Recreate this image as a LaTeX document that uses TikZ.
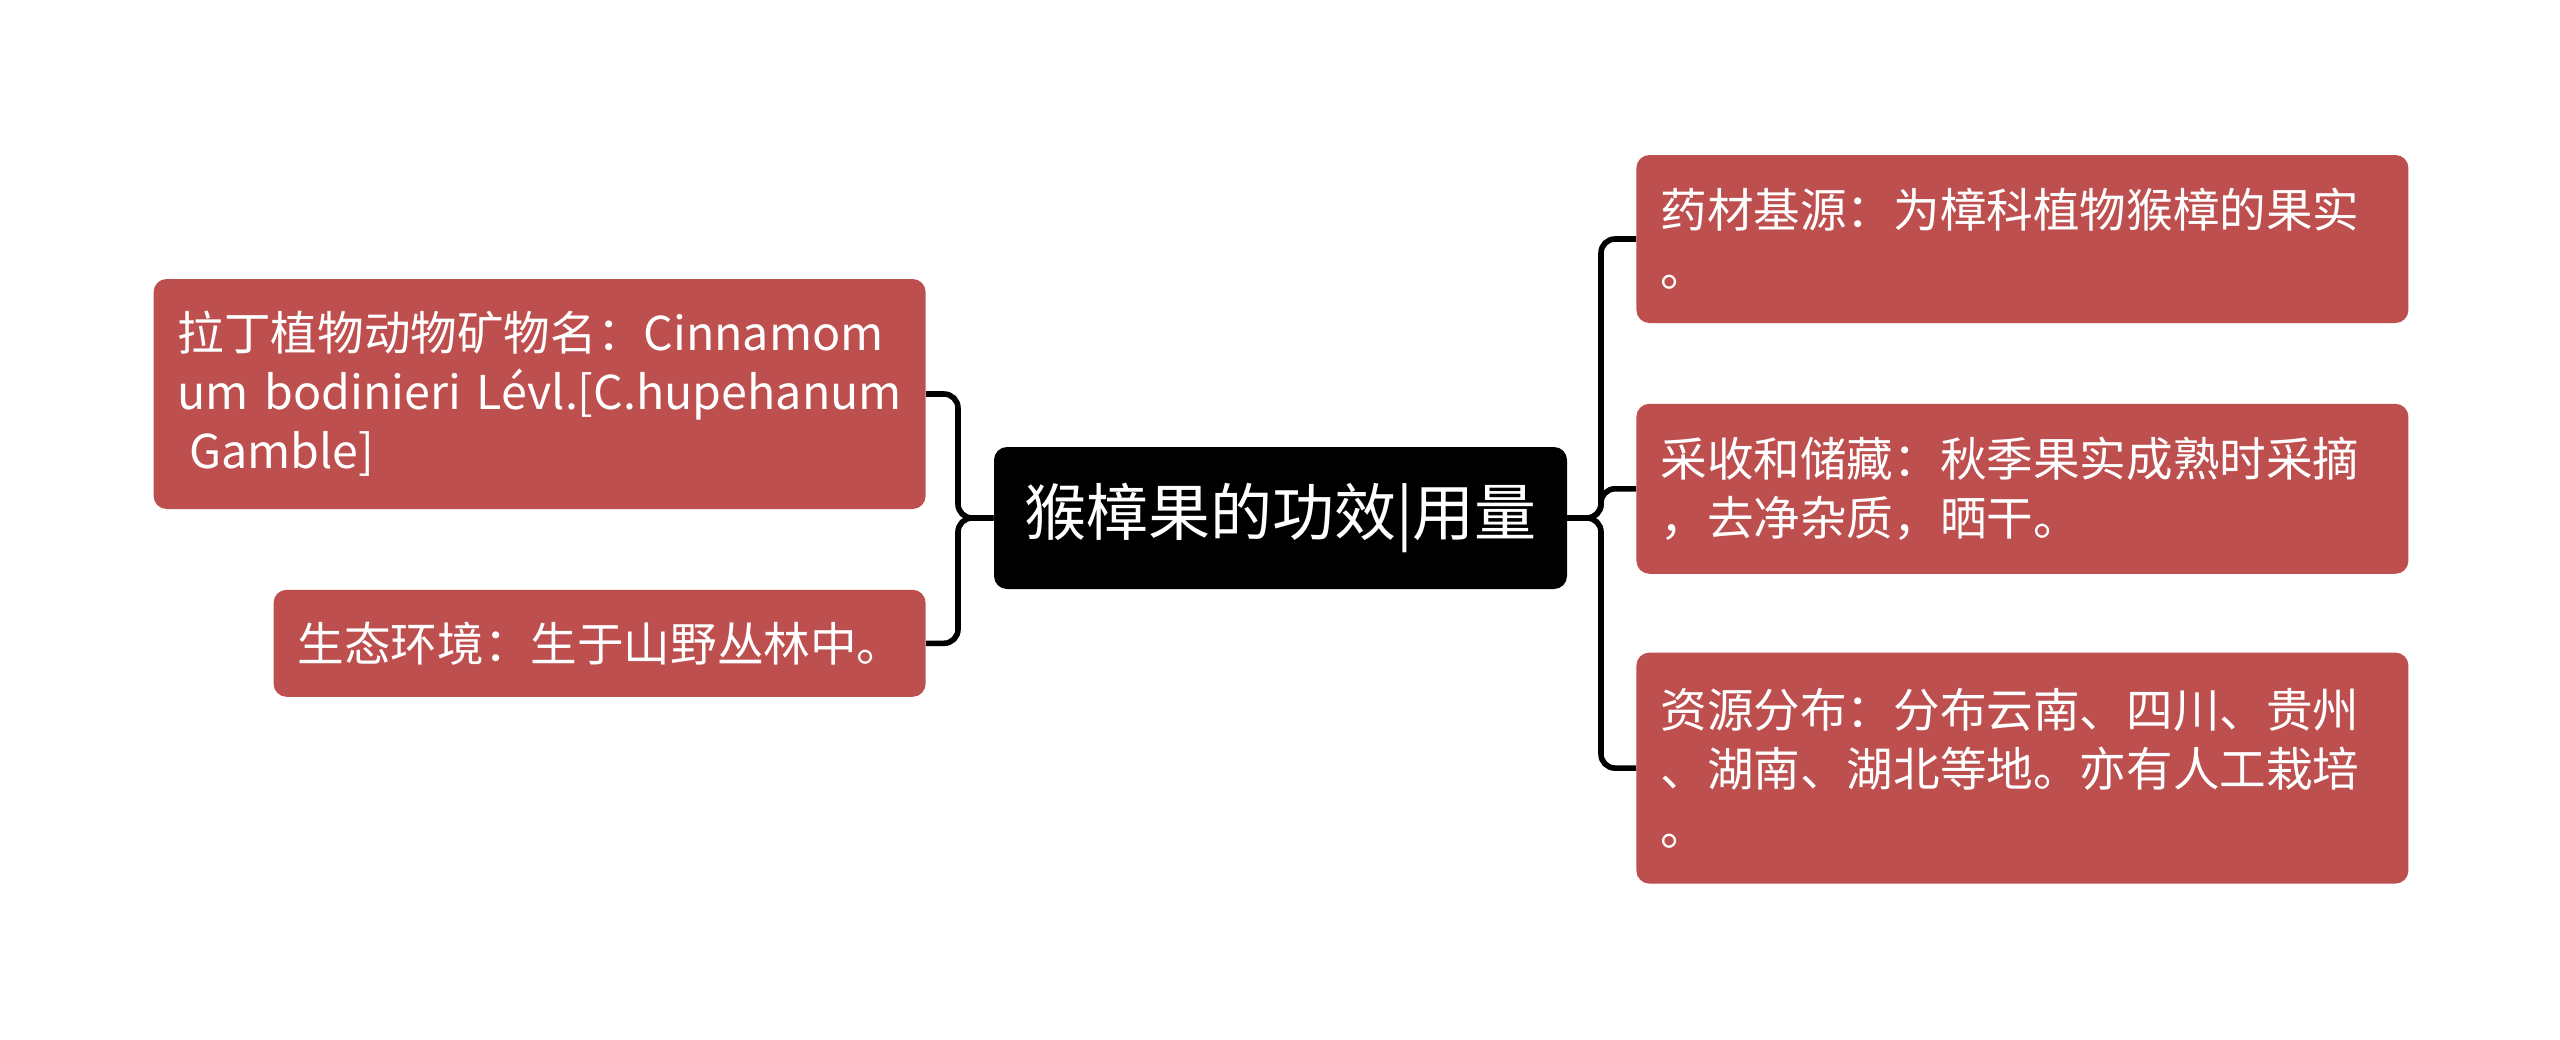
\documentclass[tikz,border=0pt]{standalone}
\usepackage{fontspec}
\setmainfont{Noto Sans CJK SC}
\usepackage{xcolor}
\definecolor{leafRed}{HTML}{BE4F4F}
\definecolor{rootBlack}{HTML}{000000}
\definecolor{linkBlack}{HTML}{000000}
\usepackage{tikz}
\usetikzlibrary{
    positioning,
    calc
}
\tikzset{
    % Base style for all boxes
    mind base/.style={
        align=left,
        text=white,
        rounded corners=6.5pt,
        inner xsep=12pt,
        inner ysep=0pt,
    },
    % Root node - black box
    root/.style={
        mind base,
        fill=rootBlack,
        font=\fontsize{31}{38}\selectfont,
        minimum width=286.5pt,
        minimum height=71pt,
        align=center,
    },
    % Leaf nodes - red boxes
    leaf/.style={
        mind base,
        fill=leafRed,
        font=\fontsize{23.3}{29.5}\selectfont,
        text width=362pt,
    },
    % Connector lines
    link/.style={
        draw=linkBlack,
        line width=2.8pt,
        rounded corners=7pt,
    },
}

\begin{document}
\begin{tikzpicture}[x=0.5pt, y=-0.5pt]
    \fill[white] (0,0) rectangle (2560,1039);
    \useasboundingbox (0,0) rectangle (2560,1039);

    \node (root) [root] at (1280.5,518) {猴樟果的功效|用量};

    % left side
    \node (lat) [leaf, anchor=east, minimum height=115pt] at (926,394)
        {拉丁植物动物矿物名：Cinnamom\\\mbox{um bodinieri Lévl.[C.hupehanum}\\\hspace*{.25em}Gamble]};
    \node (env) [leaf, text width=302pt, minimum height=53.5pt,
        below left=40pt and 0pt of lat.south east] {生态环境：生于山野丛林中。};

    % right side
    \node (src) [leaf, anchor=west, minimum height=84pt] at (1636,239)
        {药材基源：为樟科植物猴樟的果实\\。};
    \node (harv) [leaf, minimum height=85pt, below=40pt of src]
        {采收和储藏：秋季果实成熟时采摘\\，去净杂质，晒干。};
    \node (dist) [leaf, minimum height=115.5pt, below=39pt of harv]
        {资源分布：分布云南、四川、贵州\\、湖南、湖北等地。亦有人工栽培\\。};

    \coordinate (jl) at (958,518);
    \coordinate (jr) at (1601,518);

    \draw [link] (root.west) -- (jl) |- (lat.east);
    \draw [link] (root.west) -- (jl) |- (env.east);
    \draw [link] (root.east) -- (jr) |- (src.west);
    \draw [link] (root.east) -- (jr) |- (harv.west);
    \draw [link] (root.east) -- (jr) |- (dist.west);
\end{tikzpicture}
\end{document}
